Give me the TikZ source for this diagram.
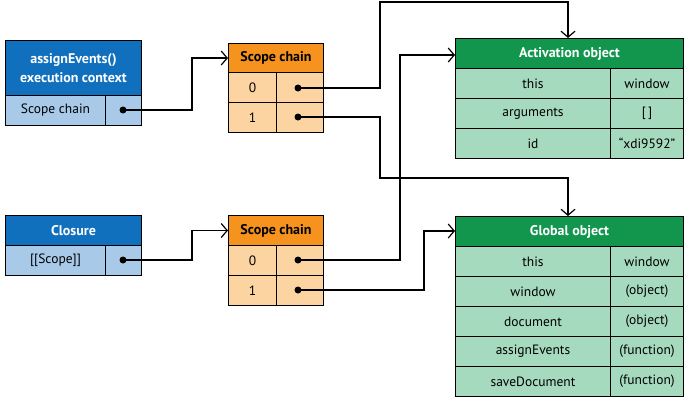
\documentclass[tikz,border=0pt]{standalone}
\usepackage{fontspec}
\setmainfont{PT Sans}
\usetikzlibrary{arrows.meta}
\definecolor{bh}{RGB}{16,112,190}
\definecolor{bl}{RGB}{168,202,232}
\definecolor{oh}{RGB}{246,146,30}
\definecolor{ol}{RGB}{252,212,162}
\definecolor{gh}{RGB}{18,150,78}
\definecolor{gl}{RGB}{166,218,190}
\begin{document}
\begin{tikzpicture}[x=1pt,y=-1pt,
  cell/.style={draw=black,line width=1pt,inner sep=0pt,anchor=north west,font=\fontsize{13.5}{15}\selectfont},
  hd/.style={cell,text=white,font=\bfseries\fontsize{14}{19}\selectfont,align=center},
  ohd/.style={cell,text=black,font=\bfseries\fontsize{14}{17}\selectfont},
  dot/.style={circle,fill=black,inner sep=0pt,minimum size=7pt},
  conn/.style={line width=1.2pt,-{Straight Barb[length=6pt,width=14pt,line width=1.2pt]}}]
\useasboundingbox (0,0) rectangle (693,408);
% assignEvents
\node[hd,fill=bh,minimum width=136pt,minimum height=55pt] (ah) at (5,40) {assignEvents()\\execution context};
\node[cell,fill=bl,minimum width=100pt,minimum height=30pt] (as) at (5,95) {Scope chain};
\node[cell,fill=bl,minimum width=36pt,minimum height=30pt] (ap) at (105,95) {};
\node[dot] (ad) at (123,110) {};
% closure
\node[hd,fill=bh,minimum width=136pt,minimum height=30pt] (ch) at (5,215) {Closure};
\node[cell,fill=bl,minimum width=100pt,minimum height=30pt] (cs) at (5,245) {[[Scope]]};
\node[cell,fill=bl,minimum width=36pt,minimum height=30pt] (cp) at (105,245) {};
\node[dot] (cd) at (123,260) {};
% scope chain 1
\node[ohd,fill=oh,minimum width=95pt,minimum height=29pt] (s1) at (228,43) {Scope chain};
\node[cell,fill=ol,minimum width=48pt,minimum height=30pt] (s10) at (228,72) {0};
\node[cell,fill=ol,minimum width=47pt,minimum height=30pt] (s10p) at (276,72) {};
\node[cell,fill=ol,minimum width=48pt,minimum height=30pt] (s11) at (228,102) {1};
\node[cell,fill=ol,minimum width=47pt,minimum height=30pt] (s11p) at (276,102) {};
\node[dot] (d10) at (298,88) {};
\node[dot] (d11) at (298,117) {};
% scope chain 2
\node[ohd,fill=oh,minimum width=95pt,minimum height=30pt] (s2) at (228,215) {Scope chain};
\node[cell,fill=ol,minimum width=48pt,minimum height=30pt] (s20) at (228,245) {0};
\node[cell,fill=ol,minimum width=47pt,minimum height=30pt] (s20p) at (276,245) {};
\node[cell,fill=ol,minimum width=48pt,minimum height=30pt] (s21) at (228,275) {1};
\node[cell,fill=ol,minimum width=47pt,minimum height=30pt] (s21p) at (276,275) {};
\node[dot] (d20) at (298,260) {};
\node[dot] (d21) at (298,290) {};
% activation
\node[hd,fill=gh,minimum width=228pt,minimum height=30pt] (act) at (455,38) {Activation object};
\foreach \n/\a/\b [count=\i from 0] in {a0/this/window,a1/arguments/[\,],a2/id/“xdi9592”}{
  \node[cell,fill=gl,minimum width=155pt,minimum height=30pt] (\n l) at (455,68+30*\i) {\a};
  \node[cell,fill=gl,minimum width=73pt,minimum height=30pt] (\n r) at (610,68+30*\i) {\b};
}
% global
\node[hd,fill=gh,minimum width=228pt,minimum height=30pt] (glo) at (455,216) {Global object};
\foreach \n/\a/\b [count=\i from 0] in {g0/this/window,g1/window/(object),g2/document/(object),g3/assignEvents/(function),g4/saveDocument/(function)}{
  \node[cell,fill=gl,minimum width=155pt,minimum height=30pt] (\n l) at (455,246+30*\i) {\a};
  \node[cell,fill=gl,minimum width=73pt,minimum height=30pt] (\n r) at (610,246+30*\i) {\b};
}
% connectors
\draw[conn] (ad.center) -- (192,110) |- (s1.west);
\draw[conn] (cd.center) -- (192,260) |- (s2.west);
\draw[conn] (d10.center) -- (380,88) -- (380,2) -| (568,38);
\draw[conn] (d11.center) -- (380,117) -- (380,178) -| (568,216);
\draw[conn] (d20.center) -- (400,260) |- (455,55);
\draw[conn] (d21.center) -- (424,290) |- (455,231);
\end{tikzpicture}
\end{document}
